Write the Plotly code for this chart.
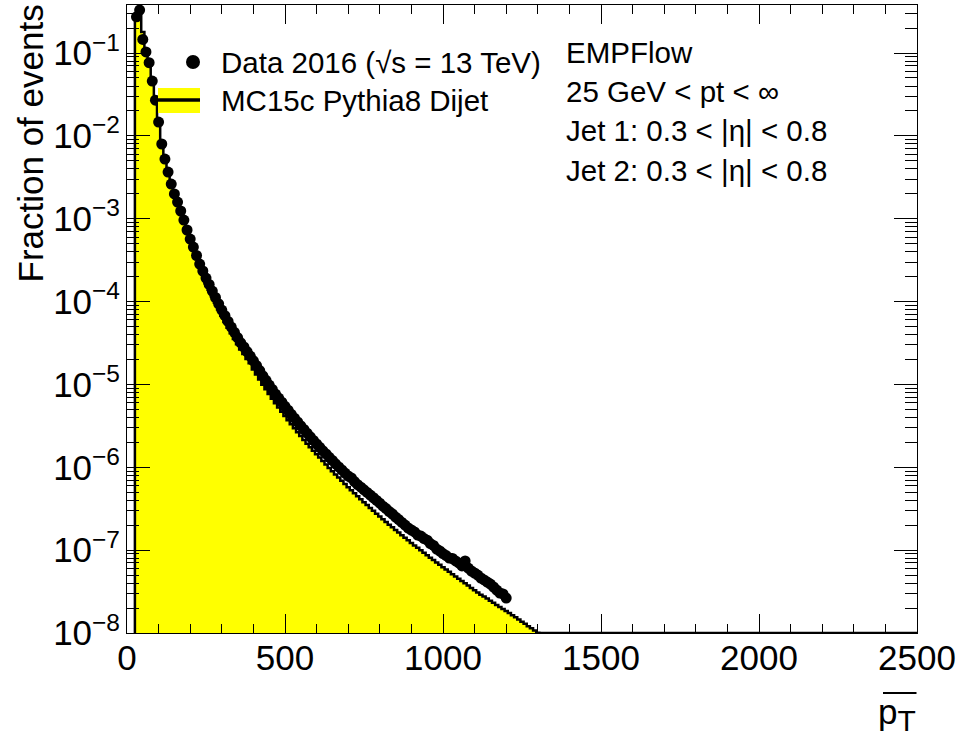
import math
import plotly.graph_objects as go

# ---------------- data ----------------
BIN_WIDTH = 10          # GeV
FIRST_EDGE = 25         # GeV, lower edge of the first bin

# Data 2016, fraction of events per 10 GeV bin (bins 25-35, 35-45, ... up to 1195-1205)
data_frac = [
    0.274, 0.330, 0.146, 0.103, 0.0764, 0.0459, 0.0270, 0.0147, 0.00798, 0.00525,
    0.00366, 0.00262, 0.00199, 0.00159, 0.00124, 9.64e-4, 7.31e-4, 5.69e-4, 4.55e-4, 3.60e-4,
    2.84e-4, 2.34e-4, 1.92e-4, 1.61e-4, 1.34e-4, 1.12e-4, 9.40e-5, 7.91e-5, 6.75e-5, 5.77e-5,
    4.93e-5, 4.26e-5, 3.68e-5, 3.18e-5, 2.83e-5, 2.49e-5, 2.20e-5, 1.93e-5, 1.69e-5, 1.47e-5,
    1.27e-5, 1.12e-5, 9.84e-6, 8.69e-6, 7.66e-6, 6.85e-6, 6.10e-6, 5.45e-6, 4.88e-6, 4.36e-6,
    3.91e-6, 3.52e-6, 3.17e-6, 2.86e-6, 2.58e-6, 2.33e-6, 2.11e-6, 1.91e-6, 1.74e-6, 1.58e-6,
    1.45e-6, 1.32e-6, 1.21e-6, 1.10e-6, 1.01e-6, 9.29e-7, 8.53e-7, 7.85e-7, 7.43e-7, 6.73e-7,
    6.17e-7, 5.75e-7, 5.35e-7, 4.98e-7, 4.62e-7, 4.29e-7, 3.98e-7, 3.69e-7, 3.39e-7, 3.18e-7,
    2.92e-7, 2.73e-7, 2.51e-7, 2.34e-7, 2.16e-7, 2.01e-7, 1.85e-7, 1.75e-7, 1.66e-7, 1.52e-7,
    1.48e-7, 1.38e-7, 1.32e-7, 1.20e-7, 1.14e-7, 1.03e-7, 9.77e-8, 9.10e-8, 8.61e-8, 8.04e-8,
    7.93e-8, 7.40e-8, 7.00e-8, 6.44e-8, 7.40e-8, 6.08e-8, 5.60e-8, 5.30e-8, 5.01e-8, 4.61e-8,
    4.37e-8, 4.12e-8, 3.90e-8, 3.59e-8, 3.30e-8, 3.04e-8, 2.96e-8, 2.64e-8,
]

# MC15c Pythia8 Dijet, fraction of events per 10 GeV bin (bins 25-35 ... 1305-1315)
mc_frac = [
    0.250, 0.313, 0.179, 0.103, 0.0697, 0.0423, 0.0249, 0.0139, 0.00753, 0.00497,
    0.00346, 0.00248, 0.00185, 0.00146, 0.00114, 8.87e-4, 6.71e-4, 5.24e-4, 4.19e-4, 3.31e-4,
    2.61e-4, 2.12e-4, 1.66e-4, 1.39e-4, 1.16e-4, 9.69e-5, 8.05e-5, 6.73e-5, 5.68e-5, 4.84e-5,
    4.14e-5, 3.54e-5, 3.06e-5, 2.65e-5, 2.33e-5, 2.03e-5, 1.80e-5, 1.51e-5, 1.32e-5, 1.15e-5,
    9.94e-6, 8.77e-6, 7.67e-6, 6.74e-6, 5.94e-6, 5.27e-6, 4.67e-6, 4.16e-6, 3.70e-6, 3.30e-6,
    2.95e-6, 2.65e-6, 2.38e-6, 2.14e-6, 1.93e-6, 1.75e-6, 1.58e-6, 1.44e-6, 1.31e-6, 1.19e-6,
    1.08e-6, 9.84e-7, 8.97e-7, 8.20e-7, 7.52e-7, 6.86e-7, 6.27e-7, 5.76e-7, 5.29e-7, 4.85e-7,
    4.46e-7, 4.11e-7, 3.79e-7, 3.50e-7, 3.23e-7, 2.98e-7, 2.75e-7, 2.55e-7, 2.36e-7, 2.19e-7,
    2.02e-7, 1.89e-7, 1.75e-7, 1.63e-7, 1.51e-7, 1.41e-7, 1.32e-7, 1.22e-7, 1.14e-7, 1.07e-7,
    9.94e-8, 9.29e-8, 8.68e-8, 8.12e-8, 7.60e-8, 7.11e-8, 6.65e-8, 6.22e-8, 5.84e-8, 5.48e-8,
    5.13e-8, 4.82e-8, 4.53e-8, 4.24e-8, 3.98e-8, 3.74e-8, 3.50e-8, 3.28e-8, 3.08e-8, 2.89e-8,
    2.75e-8, 2.60e-8, 2.45e-8, 2.31e-8, 2.18e-8, 2.06e-8, 1.95e-8, 1.84e-8, 1.74e-8, 1.64e-8,
    1.55e-8, 1.46e-8, 1.37e-8, 1.29e-8, 1.21e-8, 1.14e-8, 1.07e-8, 1.01e-8, 9.5e-9,
]

X_RANGE = [0, 2500]
Y_MIN, Y_MAX = 1e-8, 0.38
x_major_ticks = [0, 500, 1000, 1500, 2000, 2500]
y_major_ticks = [1e-8, 1e-7, 1e-6, 1e-5, 1e-4, 1e-3, 1e-2, 1e-1]
y_tick_text = ["10<sup>\u2212%d</sup>" % e for e in (8, 7, 6, 5, 4, 3, 2, 1)]

legend_data = "Data 2016 (\u221as = 13 TeV)"
legend_mc = "MC15c Pythia8 Dijet"
info_lines = ["EMPFlow", "25 GeV < pt < \u221e", "Jet 1: 0.3 < |\u03b7| < 0.8", "Jet 2: 0.3 < |\u03b7| < 0.8"]

# ---------------- build ----------------
FONT = "Liberation Sans, Arial, Helvetica, sans-serif"
Y_BELOW = 1e-11  # closes the filled area below the visible range

data_x = [FIRST_EDGE + BIN_WIDTH * (i + 0.5) for i in range(len(data_frac))]

edges = [FIRST_EDGE + BIN_WIDTH * i for i in range(len(mc_frac) + 1)]
hx, hy = [edges[0]], [Y_BELOW]
for i, v in enumerate(mc_frac):
    vv = max(v, Y_MIN)  # ROOT draws empty / underflowing bins on the frame bottom
    hx += [edges[i], edges[i + 1]]
    hy += [vv, vv]
hx += [X_RANGE[1], X_RANGE[1]]
hy += [Y_MIN, Y_BELOW]

fig = go.Figure()
fig.add_trace(go.Scatter(
    x=hx, y=hy, mode="lines", fill="toself", fillcolor="#ffff00",
    line=dict(color="black", width=2.5), name=legend_mc, hoverinfo="skip",
    showlegend=False,
))
fig.add_trace(go.Scatter(
    x=data_x, y=data_frac, mode="markers", name=legend_data,
    marker=dict(symbol="circle", size=11, color="black"),
    showlegend=False,
))

minor_y = []
for k in range(-9, 1):
    for m in range(2, 10):
        val = m * 10 ** k
        if Y_MIN <= val <= Y_MAX:
            minor_y.append(val)

axis_common = dict(
    showline=True, linecolor="black", linewidth=1, mirror="ticks",
    ticks="inside", tickcolor="black", tickwidth=1,
    showgrid=False, zeroline=False,
    tickfont=dict(size=35, family=FONT, color="black"),
)

fig.update_xaxes(
    range=X_RANGE, tickvals=x_major_ticks, ticklen=19, ticklabelstandoff=-6,
    minor=dict(dtick=100, tick0=0, ticklen=9, ticks="inside", tickcolor="black", showgrid=False),
    **axis_common,
)
fig.update_yaxes(
    type="log", range=[math.log10(Y_MIN), math.log10(Y_MAX)],
    tickvals=y_major_ticks, ticktext=y_tick_text, ticklen=23, ticklabelstandoff=-1,
    minor=dict(tickvals=minor_y, ticklen=12, ticks="inside", tickcolor="black", showgrid=False),
    **axis_common,
)

L, R, T, B = 127, 43, 5, 107
W, H = 960, 740
PW, PH = W - L - R, H - T - B


def px(xp):
    return (xp - L) / PW


def py(yp):
    return (H - B - yp) / PH


annotations = []
for i, line in enumerate(info_lines):
    annotations.append(dict(
        xref="paper", yref="paper", x=px(564), y=py(52 + 39.5 * i),
        xanchor="left", yanchor="middle", text=line, showarrow=False,
        font=dict(size=29.5, family=FONT, color="black"),
    ))
# legend texts
for txt, yc in ((legend_data, 62), (legend_mc, 100)):
    annotations.append(dict(
        xref="paper", yref="paper", x=px(219), y=py(yc),
        xanchor="left", yanchor="middle", text=txt, showarrow=False,
        font=dict(size=29.5, family=FONT, color="black"),
    ))
annotations.append(dict(
    xref="paper", yref="paper", x=px(30), y=py(143.5), textangle=-90,
    xanchor="center", yanchor="middle", text="Fraction of events", showarrow=False,
    font=dict(size=35, family=FONT, color="black"),
))
annotations.append(dict(
    xref="paper", yref="paper", x=px(918), y=py(714),
    xanchor="right", yanchor="middle",
    text="p<sub><span style='font-size:30px'>T</span></sub>", showarrow=False,
    font=dict(size=35, family=FONT, color="black"),
))

shapes = [
    # overline of the x title
    dict(type="line", xref="paper", yref="paper",
         x0=px(883), x1=px(916.5), y0=py(693), y1=py(693),
         line=dict(color="black", width=2)),
    # legend: MC box with line
    dict(type="rect", xref="paper", yref="paper",
         x0=px(158), x1=px(200), y0=py(113), y1=py(88),
         fillcolor="#ffff00", line=dict(width=0)),
    dict(type="line", xref="paper", yref="paper",
         x0=px(158), x1=px(200), y0=py(100), y1=py(100),
         line=dict(color="black", width=3.5)),
    # legend: data marker
    dict(type="circle", xref="paper", yref="paper",
         x0=px(186), x1=px(200), y0=py(69), y1=py(55),
         fillcolor="black", line=dict(width=0)),
]

fig.update_layout(
    width=W, height=H, margin=dict(l=L, r=R, t=T, b=B, pad=0),
    paper_bgcolor="white", plot_bgcolor="white",
    font=dict(family=FONT, color="black"),
    showlegend=False,
    annotations=annotations, shapes=shapes,
)

fig.write_html("out.html", config={"displayModeBar": False},
               post_script="document.body.style.margin='0px';")
